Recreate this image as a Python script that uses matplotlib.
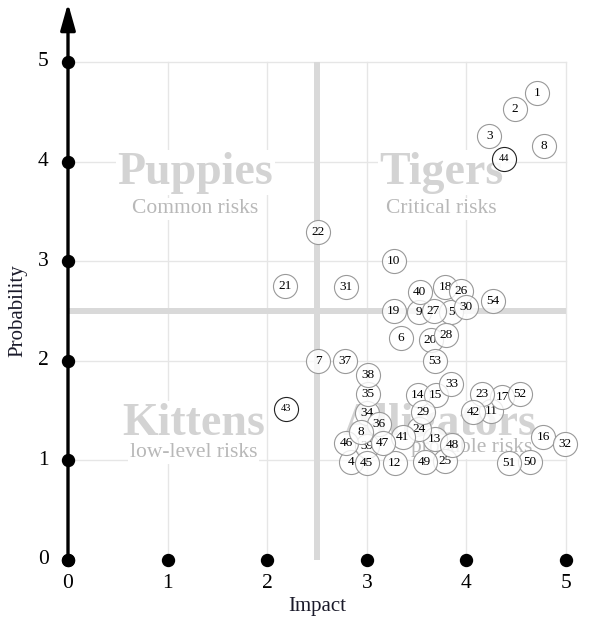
import matplotlib
matplotlib.use("Agg")
import matplotlib.pyplot as plt

plt.rcParams["font.family"] = ["Liberation Serif", "DejaVu Serif"]

# risk register: id, impact, probability
risk_ids = [1, 2, 3, 4, 5, 6, 7, 8, 9, 10, 11, 12, 13, 14, 15, 16, 17, 18,
            19, 20, 21, 22, 23, 24, 25, 26, 27, 28, 29, 30, 31, 32, 33, 34,
            35, 36, 37, 38, 39, 40, 41, 42, 43, 44, 45, 46, 47, 48, 49, 50,
            51, 52, 53, 54, 8]
impact = [4.71, 4.49, 4.23, 2.84, 3.85, 3.34, 2.51, 4.78, 3.52, 3.27, 4.25,
          3.28, 3.68, 3.51, 3.69, 4.77, 4.36, 3.79, 3.27, 3.64, 2.18, 2.51,
          4.16, 3.52, 3.79, 3.95, 3.67, 3.80, 3.56, 4.00, 2.79, 4.99, 3.85,
          3.00, 3.01, 3.12, 2.78, 3.01, 3.00, 3.53, 3.36, 4.07, 2.19, 4.38,
          3.00, 2.79, 3.16, 3.86, 3.58, 4.64, 4.43, 4.54, 3.68, 4.27, 2.94]
probability = [4.69, 4.53, 4.26, 0.98, 2.49, 2.23, 2.00, 4.16, 2.49, 3.00,
               1.50, 0.97, 1.21, 1.66, 1.66, 1.23, 1.64, 2.74, 2.50, 2.21,
               2.75, 3.29, 1.67, 1.32, 0.99, 2.70, 2.50, 2.26, 1.49, 2.54,
               2.74, 1.16, 1.77, 1.48, 1.67, 1.37, 2.00, 1.86, 1.14, 2.69,
               1.23, 1.49, 1.52, 4.03, 0.97, 1.17, 1.17, 1.15, 0.98, 0.98,
               0.97, 1.67, 2.00, 2.60, 1.29]
highlighted = [43, 44]

ticks = [0, 1, 2, 3, 4, 5]
quadrants = [
    ("Puppies", "Common risks", 1.28, 3.78, 3.48),
    ("Tigers", "Critical risks", 3.75, 3.78, 3.48),
    ("Kittens", "low-level risks", 1.26, 1.26, 1.03),
    ("Alligators", "probable risks", 3.73, 1.26, 1.08),
]
sub_x = {"probable risks": 4.05}

fig = plt.figure(figsize=(6.09, 6.21), dpi=100)
ax = fig.add_axes([0, 0, 1, 1])
ax.set_xlim(-68 / 99.6, 541 / 99.6)
ax.set_ylim(-61 / 99.6, 560 / 99.6)
ax.axis("off")

# light grid
for t in ticks[1:]:
    ax.plot([0, 5], [t, t], color="#e6e6e6", lw=1, zorder=1)
    ax.plot([t, t], [0, 5], color="#e6e6e6", lw=1, zorder=1)

# quadrant dividers
ax.plot([2.5, 2.5], [0, 5], color="#d9d9d9", lw=4.3, zorder=2, solid_capstyle="butt")
ax.plot([0, 5], [2.5, 2.5], color="#d9d9d9", lw=4.3, zorder=2, solid_capstyle="butt")

# quadrant names
box = dict(facecolor="white", edgecolor="none", pad=1)
for title, sub, x, ty, sy in quadrants:
    ax.text(x, ty, title, fontsize=33, fontweight="bold", color="#d3d3d3",
            ha="center", va="baseline", zorder=3, bbox=box)
    ax.text(sub_x.get(sub, x), sy, sub, fontsize=15.5, color="#b8b8b8",
            ha="center", va="baseline", zorder=3, bbox=box)

# axes with arrows
ax.annotate("", xy=(0, 5.59), xytext=(0, 0),
            arrowprops=dict(arrowstyle="-|>,head_length=1.6,head_width=0.45",
                            lw=2.4, color="black", mutation_scale=10,
                            shrinkA=0, shrinkB=0), zorder=4)
ax.annotate("", xy=(5.44, 0), xytext=(0, 0),
            arrowprops=dict(arrowstyle="-|>,head_length=1.6,head_width=0.55",
                            lw=2.4, color="black", mutation_scale=10,
                            shrinkA=0, shrinkB=0), zorder=4)
ax.scatter(ticks, [0] * len(ticks), s=74, color="black", zorder=5)
ax.scatter([0] * len(ticks), ticks, s=74, color="black", zorder=5)
for t in ticks:
    ax.text(t, -0.24, str(t), fontsize=15.5, ha="center", va="center")
    ax.text(-0.25, t, str(t), fontsize=15.5, ha="center", va="center")

ax.text(2.5, -0.47, "Impact", fontsize=15, ha="center", va="center", color="#1a1a2a")
ax.text(-0.50, 2.5, "Probability", fontsize=15, ha="center", va="center",
        rotation=90, color="#1a1a2a")

# risk bubbles
for i, (rid, x, y) in enumerate(zip(risk_ids, impact, probability)):
    hl = rid in highlighted
    z = 10 + 2 * i
    ax.scatter(x, y, s=300, facecolor=(1, 1, 1, 0.8),
               edgecolor="#222222" if hl else "#999999", lw=0.8, zorder=z)
    ax.text(x, y, str(rid), fontsize=7.5 if hl else 9.5, ha="center",
            va="center", zorder=z + 1)

fig.savefig("out.png", dpi=100)
plt.close(fig)
